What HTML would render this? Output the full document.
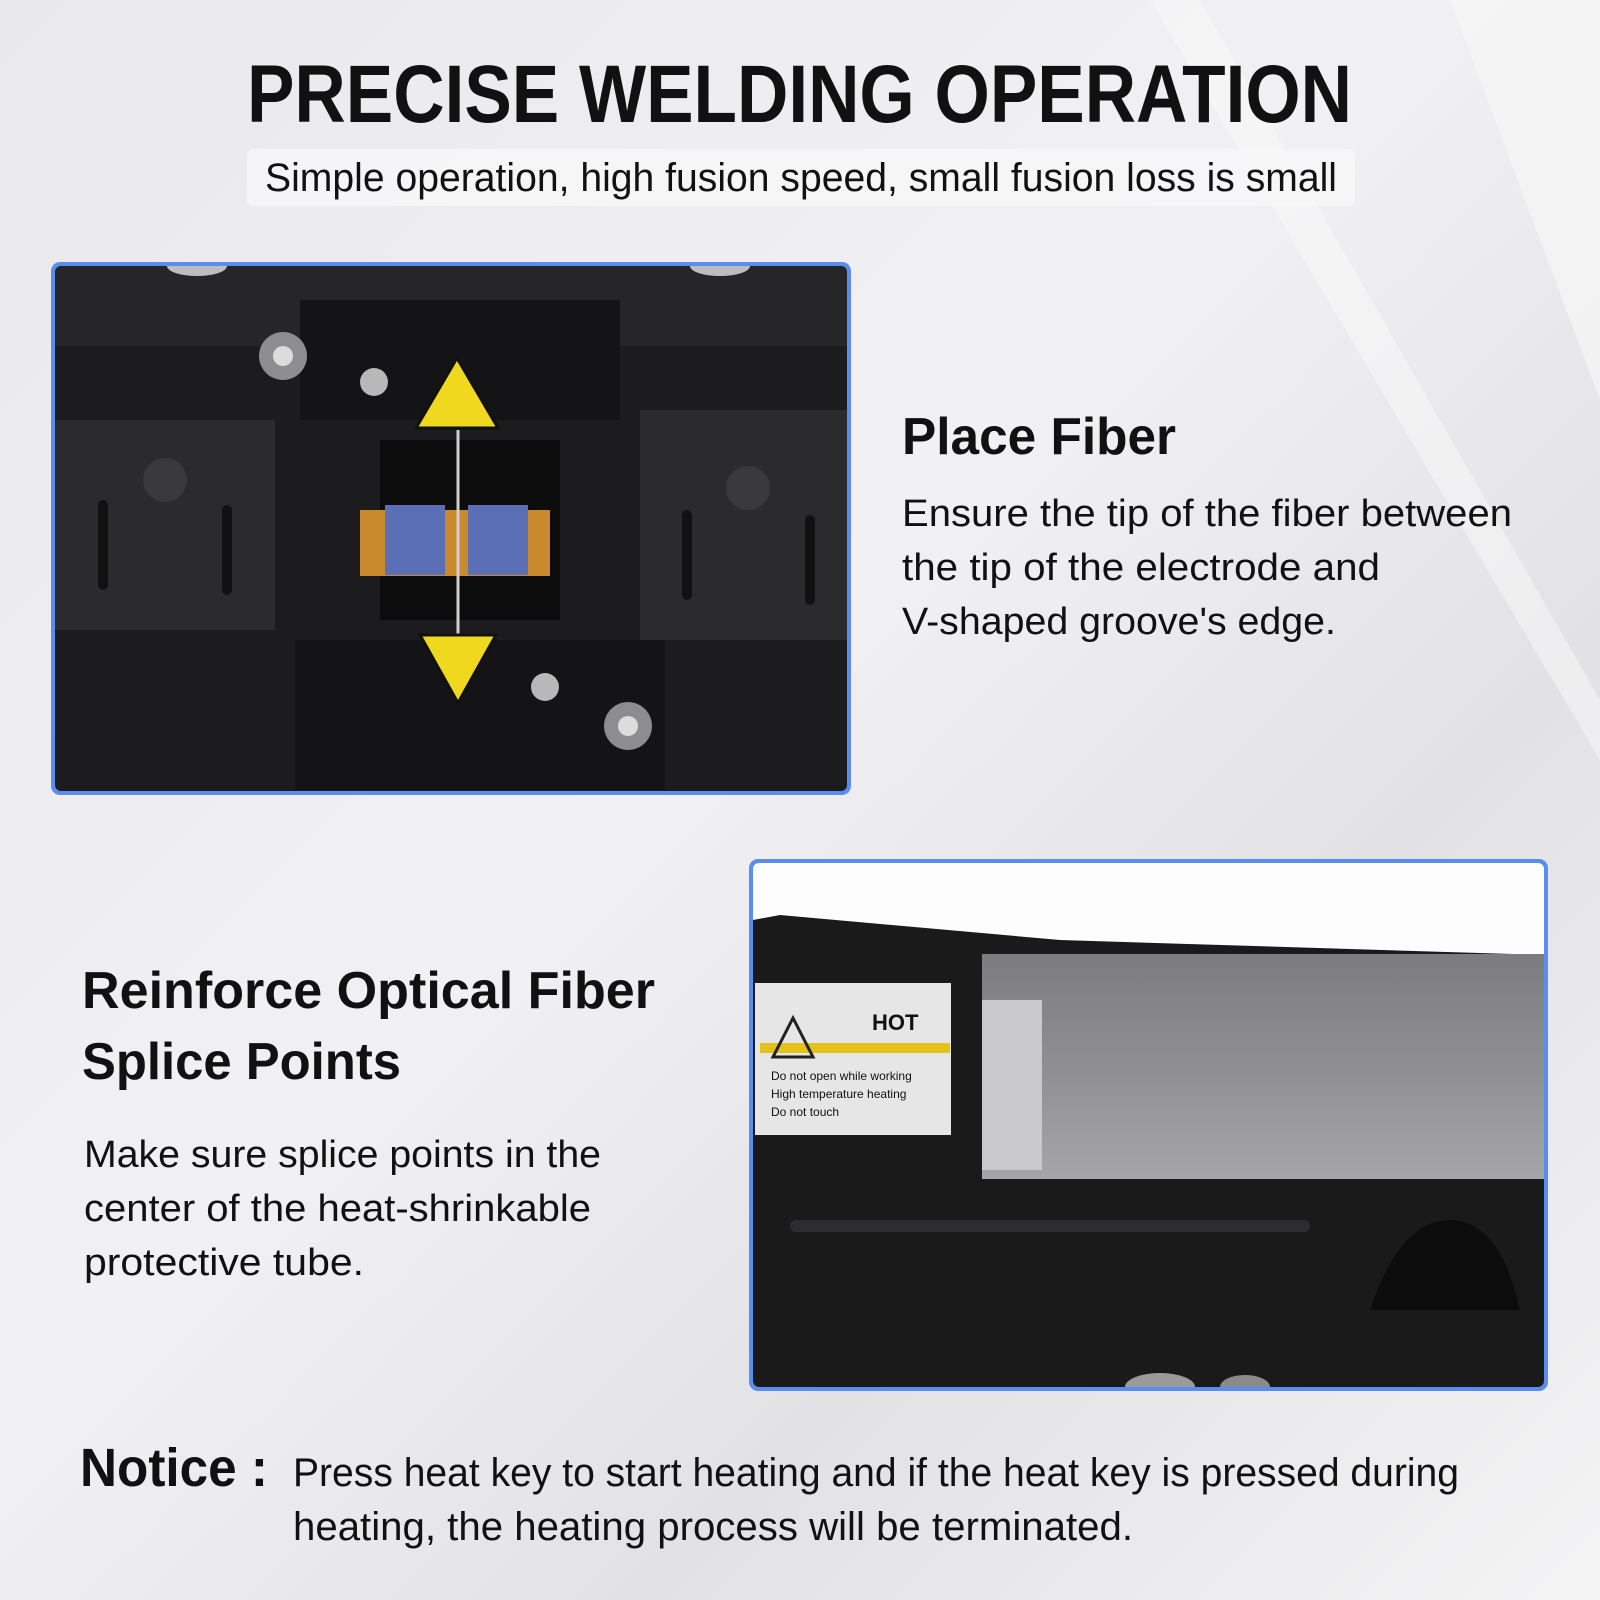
<!DOCTYPE html>
<html><head><meta charset="utf-8"><style>
html,body{margin:0;padding:0;width:1600px;height:1600px;overflow:hidden;background:#ececee}
svg{display:block}
text{font-family:"Liberation Sans",sans-serif;fill:#111}
</style></head><body>
<svg width="1600" height="1600" viewBox="0 0 1600 1600" xmlns="http://www.w3.org/2000/svg">
<defs>
<linearGradient id="bg" x1="0" y1="0" x2="1" y2="1">
<stop offset="0" stop-color="#e9e9eb"/><stop offset="0.45" stop-color="#f1f1f3"/><stop offset="0.7" stop-color="#e2e2e5"/><stop offset="1" stop-color="#f4f4f5"/>
</linearGradient>
<linearGradient id="lid" x1="0" y1="0" x2="0" y2="1">
<stop offset="0" stop-color="#7c7c7e"/><stop offset="0.5" stop-color="#8f8f92"/><stop offset="1" stop-color="#a6a6a8"/>
</linearGradient>
<clipPath id="c1"><rect x="55" y="266" width="792" height="525" rx="6"/></clipPath>
<clipPath id="c2"><rect x="753" y="863" width="791" height="524" rx="6"/></clipPath>
</defs>
<rect width="1600" height="1600" fill="url(#bg)"/>
<path d="M1450 0 L1600 0 L1600 400 Z" fill="#f7f7f7" opacity="0.7"/>
<path d="M1200 0 L1600 700 L1600 760 L1150 0 Z" fill="#fafafa" opacity="0.5"/>

<text x="247" y="122" font-size="82" font-weight="bold" textLength="1105" lengthAdjust="spacingAndGlyphs">PRECISE WELDING OPERATION</text>
<rect x="247" y="149" width="1108" height="57" rx="6" fill="#f7f7f8" opacity="0.85"/>
<text x="265" y="191" font-size="40" textLength="1072" lengthAdjust="spacingAndGlyphs">Simple operation, high fusion speed, small fusion loss is small</text>

<!-- image 1 -->
<rect x="51" y="262" width="800" height="533" rx="9" fill="#5b8def"/>
<g clip-path="url(#c1)">
<rect x="55" y="266" width="792" height="525" fill="#1c1c1e"/>
<rect x="55" y="266" width="792" height="80" fill="#262628"/>
<rect x="55" y="420" width="220" height="210" fill="#2b2b2d"/>
<rect x="640" y="410" width="207" height="230" fill="#2b2b2d"/>
<rect x="300" y="300" width="320" height="120" fill="#141416"/>
<rect x="295" y="640" width="370" height="150" fill="#141416"/>
<rect x="380" y="440" width="180" height="180" fill="#0c0c0c"/>
<rect x="360" y="510" width="190" height="66" fill="#c98a2e"/>
<rect x="385" y="505" width="60" height="70" fill="#5b6fb6"/>
<rect x="468" y="505" width="60" height="70" fill="#5b6fb6"/>
<line x1="458" y1="430" x2="458" y2="650" stroke="#cfcfcf" stroke-width="3"/>
<polygon points="416,428 498,428 457,358" fill="#f0d81e" stroke="#111" stroke-width="3"/>
<polygon points="420,635 496,635 458,703" fill="#f0d81e" stroke="#111" stroke-width="3"/>
<circle cx="283" cy="356" r="24" fill="#8d8d8f"/><circle cx="283" cy="356" r="10" fill="#dcdcdc"/>
<circle cx="628" cy="726" r="24" fill="#8d8d8f"/><circle cx="628" cy="726" r="10" fill="#dcdcdc"/>
<circle cx="374" cy="382" r="14" fill="#b8b8b8"/>
<circle cx="545" cy="687" r="14" fill="#b8b8b8"/>
<circle cx="165" cy="480" r="22" fill="#3a3a3c"/><circle cx="748" cy="488" r="22" fill="#3a3a3c"/>
<rect x="98" y="500" width="10" height="90" rx="5" fill="#111"/>
<rect x="222" y="505" width="10" height="90" rx="5" fill="#111"/>
<rect x="682" y="510" width="10" height="90" rx="5" fill="#111"/>
<rect x="805" y="515" width="10" height="90" rx="5" fill="#111"/>
<ellipse cx="197" cy="266" rx="30" ry="10" fill="#bdbdbd"/><ellipse cx="720" cy="266" rx="30" ry="10" fill="#bdbdbd"/>
</g>

<text x="902" y="454" font-size="52" font-weight="bold" textLength="274" lengthAdjust="spacingAndGlyphs">Place Fiber</text>
<text x="902" y="526" font-size="38" textLength="610" lengthAdjust="spacingAndGlyphs">Ensure the tip of the fiber between</text>
<text x="902" y="580" font-size="38" textLength="478" lengthAdjust="spacingAndGlyphs">the tip of the electrode and</text>
<text x="902" y="634" font-size="38" textLength="434" lengthAdjust="spacingAndGlyphs">V-shaped groove's edge.</text>

<!-- image 2 -->
<rect x="749" y="859" width="799" height="532" rx="9" fill="#5b8def"/>
<g clip-path="url(#c2)">
<rect x="753" y="863" width="791" height="524" fill="#fdfdfd"/>
<path d="M753 920 L780 915 L1060 940 L1544 955 L1544 1387 L753 1387 Z" fill="#1a1a1b"/>
<rect x="982" y="954" width="562" height="225" fill="url(#lid)"/>
<rect x="982" y="1000" width="60" height="170" fill="#c9c9cb"/>
<rect x="755" y="983" width="196" height="152" fill="#e6e6e6"/>
<rect x="760" y="1043" width="190" height="10" fill="#e3c21a"/>
<text x="872" y="1030" font-size="22" font-weight="bold" fill="#222">HOT</text>
<polygon points="773,1057 813,1057 793,1018" fill="none" stroke="#222" stroke-width="3"/>
<text x="771" y="1080" font-size="12" fill="#222">Do not open while working</text>
<text x="771" y="1098" font-size="12" fill="#222">High temperature heating</text>
<text x="771" y="1116" font-size="12" fill="#222">Do not touch</text>
<rect x="790" y="1220" width="520" height="12" rx="6" fill="#2d2d2f"/>
<path d="M1370 1310 Q1400 1220 1450 1220 Q1500 1220 1520 1310 Z" fill="#0c0c0c"/>
<ellipse cx="1160" cy="1387" rx="35" ry="14" fill="#9a9a9a"/>
<ellipse cx="1245" cy="1387" rx="25" ry="12" fill="#8a8a8a"/>
</g>

<text x="82" y="1008" font-size="52" font-weight="bold" textLength="573" lengthAdjust="spacingAndGlyphs">Reinforce Optical Fiber</text>
<text x="82" y="1079" font-size="52" font-weight="bold" textLength="319" lengthAdjust="spacingAndGlyphs">Splice Points</text>
<text x="84" y="1167" font-size="38" textLength="517" lengthAdjust="spacingAndGlyphs">Make sure splice points in the</text>
<text x="84" y="1221" font-size="38" textLength="507" lengthAdjust="spacingAndGlyphs">center of the heat-shrinkable</text>
<text x="84" y="1275" font-size="38" textLength="280" lengthAdjust="spacingAndGlyphs">protective tube.</text>

<text x="80" y="1486" font-size="54" font-weight="bold" textLength="188" lengthAdjust="spacingAndGlyphs">Notice :</text>
<text x="293" y="1486" font-size="40" textLength="1166" lengthAdjust="spacingAndGlyphs">Press heat key to start heating and if the heat key is pressed during</text>
<text x="293" y="1540" font-size="40" textLength="840" lengthAdjust="spacingAndGlyphs">heating, the heating process will be terminated.</text>
</svg>
</body></html>
